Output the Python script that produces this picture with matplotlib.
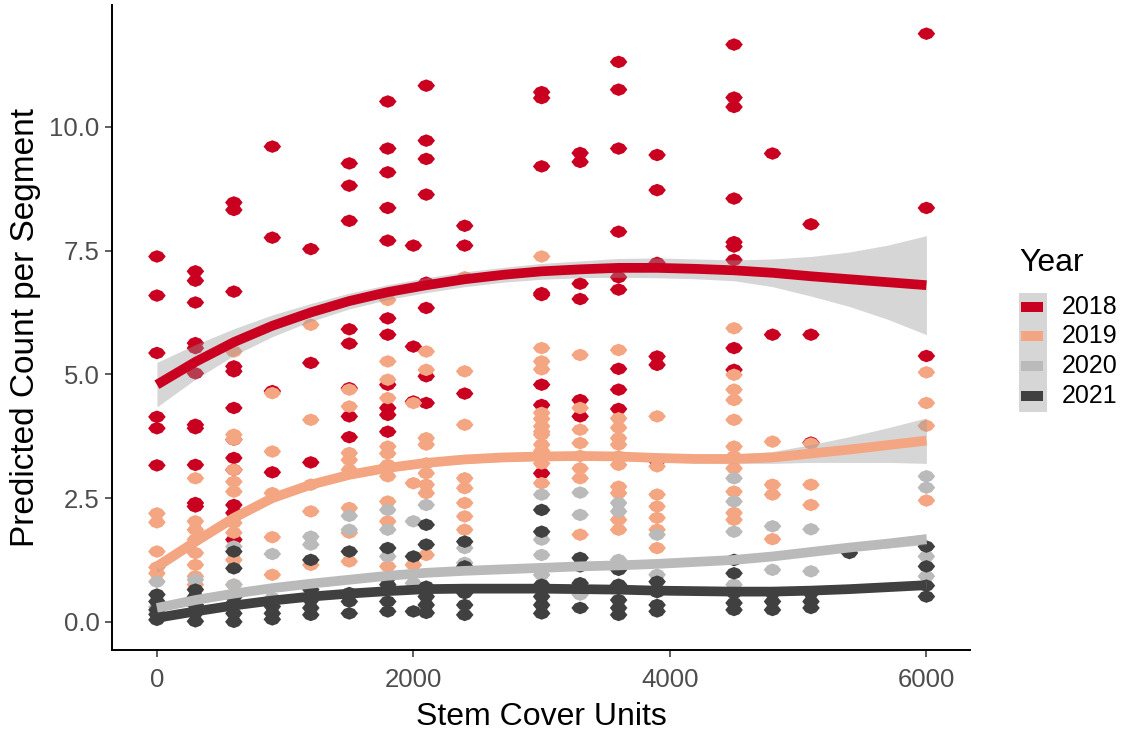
import numpy as np
import matplotlib
matplotlib.use("Agg")
import matplotlib.pyplot as plt
from matplotlib.patches import Rectangle
from matplotlib.path import Path

plt.rcParams['font.family'] = ['Liberation Sans', 'DejaVu Sans']

# colours (RdGy, 4 classes)
years = ["2018", "2019", "2020", "2021"]
colors = ["#CA0020", "#F4A582", "#BABABA", "#404040"]

# points: stem cover column -> predicted counts
cols_2018 = [0, 300, 600, 900, 1200, 1500, 1800, 2000, 2100, 2400, 3000, 3300,
             3600, 3900, 4500, 4800, 5100, 6000]
vals_2018 = [
    [7.38, 6.59, 5.43, 4.14, 3.91, 3.16],
    [7.08, 6.89, 6.45, 5.63, 5.53, 5.02, 3.98, 3.91, 3.17, 2.40, 2.33],
    [8.47, 8.32, 6.67, 5.16, 5.06, 4.32, 3.68, 3.31, 3.07, 2.36, 2.20, 1.66],
    [9.60, 7.76, 4.66, 3.02],
    [7.53, 5.23, 3.22],
    [9.26, 8.81, 8.10, 5.91, 5.62, 4.72, 4.15, 3.73],
    [10.51, 9.56, 9.08, 8.36, 7.70, 6.13, 5.80, 4.79, 4.32, 4.18, 3.84],
    [7.60, 5.56, 4.45],
    [10.83, 9.72, 9.35, 8.63, 6.85, 6.34, 4.96, 4.42],
    [8.00, 7.60, 4.61],
    [10.70, 10.58, 9.20, 6.64, 6.60, 4.79, 4.38, 3.00],
    [9.47, 9.29, 6.83, 6.52, 4.48, 4.15],
    [11.31, 10.75, 9.56, 7.88, 6.96, 6.71, 5.11, 4.69, 4.30],
    [9.43, 8.72, 7.25, 5.36, 5.19, 3.24],
    [11.66, 10.59, 10.40, 8.55, 7.67, 7.58, 7.31, 5.53, 5.09],
    [9.46, 5.80],
    [8.03, 5.80, 3.62],
    [11.88, 8.36, 5.37],
]

cols_2019 = [0, 300, 600, 900, 1200, 1500, 1800, 2000, 2100, 2400, 3000, 3300,
             3600, 3900, 4500, 4800, 5100, 6000]
vals_2019 = [
    [2.19, 2.01, 1.42, 1.10, 0.98],
    [2.90, 2.03, 1.86, 1.66, 1.39, 1.15, 0.92, 0.75],
    [5.46, 3.78, 3.68, 3.07, 2.83, 2.63, 2.00, 1.80, 1.25, 0.75],
    [4.62, 3.44, 2.60, 1.71, 0.95],
    [6.00, 4.08, 2.77, 2.23, 1.15],
    [4.69, 4.35, 3.41, 3.27, 3.07, 2.30, 1.80, 1.22],
    [6.50, 5.26, 4.89, 4.52, 3.54, 3.40, 3.17, 2.94, 2.43, 2.03, 1.12],
    [4.42, 2.80, 1.15],
    [5.46, 5.09, 3.71, 3.58, 3.20, 3.00, 2.77, 2.60, 1.35],
    [6.96, 5.06, 3.98, 2.90, 2.70, 2.40, 2.13, 1.86],
    [7.38, 5.53, 5.26, 5.10, 4.22, 4.10, 3.95, 3.84, 3.78, 3.58, 3.45, 3.34, 3.20, 2.80],
    [5.39, 4.32, 3.88, 3.61, 3.35, 3.10, 2.90, 1.76],
    [5.49, 4.11, 3.92, 3.71, 3.58, 3.34, 3.17, 2.73, 2.60, 2.06, 1.86],
    [4.15, 3.14, 2.57, 2.33, 2.10, 1.86, 1.49],
    [5.93, 4.99, 4.69, 4.48, 4.08, 3.54, 3.34, 3.10, 2.63, 2.20, 2.06],
    [3.64, 2.77, 2.57, 1.67],
    [3.60, 2.77, 2.36],
    [5.04, 4.42, 3.96, 2.45],
]

cols_2020 = [0, 300, 600, 900, 1200, 1500, 1800, 2000, 2100, 2400, 3000, 3300,
             3600, 3900, 4500, 4800, 5100, 6000]
vals_2020 = [
    [0.81, 0.30],
    [0.85],
    [1.52, 0.75],
    [1.37, 0.48],
    [1.72, 1.56],
    [2.14, 1.86],
    [2.26, 1.86, 1.32],
    [2.03, 0.78],
    [2.36],
    [1.49, 1.19],
    [2.57, 1.66, 1.35, 0.95],
    [2.61, 2.16, 0.55],
    [2.40, 2.23, 1.25],
    [1.76, 0.95],
    [2.90, 2.43, 1.82, 0.75],
    [1.93, 1.05],
    [1.87, 1.02],
    [2.94, 2.71, 1.32, 0.92],
]

cols_2021 = [0, 300, 600, 900, 1200, 1500, 1800, 2000, 2100, 2400, 3000, 3300,
             3600, 3900, 4500, 4800, 5100, 5400, 6000]
vals_2021 = [
    [0.55, 0.41, 0.24, 0.15, 0.04],
    [0.65, 0.51, 0.34, 0.18, 0.01],
    [1.42, 1.08, 0.50, 0.38, 0.17, 0.00],
    [0.31, 0.17, 0.05],
    [1.25, 0.65, 0.44, 0.28, 0.14],
    [1.42, 0.58, 0.41, 0.17],
    [1.49, 0.88, 0.75, 0.41, 0.21],
    [1.32, 0.21],
    [1.96, 1.56, 0.71, 0.51, 0.34, 0.18],
    [1.62, 1.12, 0.58, 0.34, 0.14],
    [2.26, 1.82, 0.75, 0.51, 0.34, 0.17],
    [1.29, 1.12, 0.78, 0.28],
    [1.05, 0.75, 0.44, 0.28, 0.14],
    [0.81, 0.60, 0.34, 0.21],
    [1.25, 0.98, 0.58, 0.38, 0.24],
    [0.58, 0.41, 0.24],
    [0.58, 0.41, 0.28],
    [1.39],
    [1.52, 1.12, 0.73, 0.51],
]

# smoothed fits and confidence half-widths
smooth_x = [0, 300, 600, 900, 1200, 1500, 1800, 2100, 2400, 2700, 3000, 3300,
            3600, 3900, 4200, 4500, 4800, 5100, 5400, 5700, 6000]
fit_2018 = [4.79, 5.25, 5.65, 5.98, 6.25, 6.48, 6.66, 6.80, 6.92, 7.01, 7.08, 7.12,
            7.15, 7.15, 7.13, 7.10, 7.05, 6.98, 6.92, 6.86, 6.80]
se_2018 = [0.45, 0.35, 0.27, 0.22, 0.18, 0.16, 0.15, 0.15, 0.15, 0.15, 0.16, 0.17,
           0.19, 0.20, 0.20, 0.21, 0.28, 0.40, 0.55, 0.75, 1.00]
fit_2019 = [1.12, 1.62, 2.10, 2.50, 2.77, 2.97, 3.11, 3.21, 3.28, 3.32, 3.34, 3.35,
            3.34, 3.31, 3.29, 3.29, 3.32, 3.40, 3.48, 3.57, 3.66]
se_2019 = [0.12, 0.10, 0.09, 0.09, 0.08, 0.08, 0.08, 0.08, 0.08, 0.08, 0.08, 0.08,
           0.08, 0.08, 0.08, 0.09, 0.12, 0.18, 0.26, 0.35, 0.46]
fit_2020 = [0.28, 0.44, 0.57, 0.68, 0.77, 0.85, 0.93, 0.99, 1.03, 1.06, 1.09, 1.12,
            1.14, 1.17, 1.21, 1.25, 1.32, 1.41, 1.50, 1.58, 1.67]
se_2020 = [0.06, 0.05, 0.05, 0.04, 0.04, 0.04, 0.04, 0.04, 0.04, 0.04, 0.04, 0.04,
           0.04, 0.04, 0.04, 0.04, 0.05, 0.06, 0.07, 0.09, 0.11]
fit_2021 = [0.08, 0.21, 0.33, 0.43, 0.51, 0.57, 0.62, 0.66, 0.67, 0.67, 0.67, 0.66,
            0.65, 0.63, 0.62, 0.61, 0.61, 0.63, 0.66, 0.70, 0.74]
se_2021 = [0.05, 0.04, 0.04, 0.03, 0.03, 0.03, 0.03, 0.03, 0.03, 0.03, 0.03, 0.03,
           0.03, 0.03, 0.03, 0.03, 0.03, 0.04, 0.05, 0.06, 0.08]

xticks = [0, 2000, 4000, 6000]
yticks = [0.0, 2.5, 5.0, 7.5, 10.0]
ytick_labels = ["0.0", "2.5", "5.0", "7.5", "10.0"]

points = [(cols_2018, vals_2018), (cols_2019, vals_2019),
          (cols_2020, vals_2020), (cols_2021, vals_2021)]
fits = [(fit_2018, se_2018), (fit_2019, se_2019),
        (fit_2020, se_2020), (fit_2021, se_2021)]

# the dots in the original are a bit wider than tall
dot = Path([(-1, 0), (-0.6, 0.5), (0, 0.72), (0.6, 0.5), (1, 0),
            (0.6, -0.5), (0, -0.72), (-0.6, -0.5), (-1, 0)], closed=True)

fig = plt.figure(figsize=(11.27, 7.34), dpi=100)
ax = fig.add_axes([0.0994, 0.1144, 0.7613, 0.8788])

for (cols, vals), c in zip(points, colors):
    xs = [x for x, v in zip(cols, vals) for _ in v]
    ys = [y for v in vals for y in v]
    ax.scatter(xs, ys, s=160, marker=dot, color=c, edgecolors="none", zorder=2)

band_col = "#D6D6D6"
for (fit, se), c in zip(fits, colors):
    f = np.array(fit)
    s = np.array(se)
    ax.fill_between(smooth_x, f - s, f + s, color="#999999", alpha=0.4,
                    linewidth=0, zorder=3)
    ax.plot(smooth_x, f, color=c, linewidth=7, solid_capstyle="butt", zorder=4)

ax.set_xlim(-350, 6340)
ax.set_ylim(-0.57, 12.46)
ax.set_xticks(xticks)
ax.set_xticklabels([str(t) for t in xticks])
ax.set_yticks(yticks)
ax.set_yticklabels(ytick_labels)

for side in ("top", "right"):
    ax.spines[side].set_visible(False)
for side in ("left", "bottom"):
    ax.spines[side].set_linewidth(1.4)
    ax.spines[side].set_color("black")
ax.tick_params(axis="both", length=5, width=1.1, color="#333333",
               labelsize=18.5, labelcolor="#4D4D4D")
ax.tick_params(axis="x", pad=8)
ax.tick_params(axis="y", pad=4)

ax.set_xlabel("Stem Cover Units", fontsize=23, color="black", labelpad=7)
ax.set_ylabel("Predicted Count per Segment", fontsize=24, color="black", labelpad=6)

# legend drawn in figure pixels
W, H = 1127, 734
fig.text(1019 / W, 1 - 263 / H, "Year", fontsize=23, ha="left", va="center")
fig.patches.append(Rectangle((1019 / W, 1 - 412 / H), 28 / W, 119 / H,
                             transform=fig.transFigure, color=band_col,
                             linewidth=0))
key_y = [307, 336, 366, 396]
for yy, c, lab in zip(key_y, colors, years):
    fig.patches.append(Rectangle((1021 / W, 1 - (yy + 5) / H), 22 / W, 10 / H,
                                 transform=fig.transFigure, color=c, linewidth=0))
    fig.text(1062 / W, 1 - yy / H, lab, fontsize=18, ha="left", va="center")

fig.savefig("out.png", dpi=100)
